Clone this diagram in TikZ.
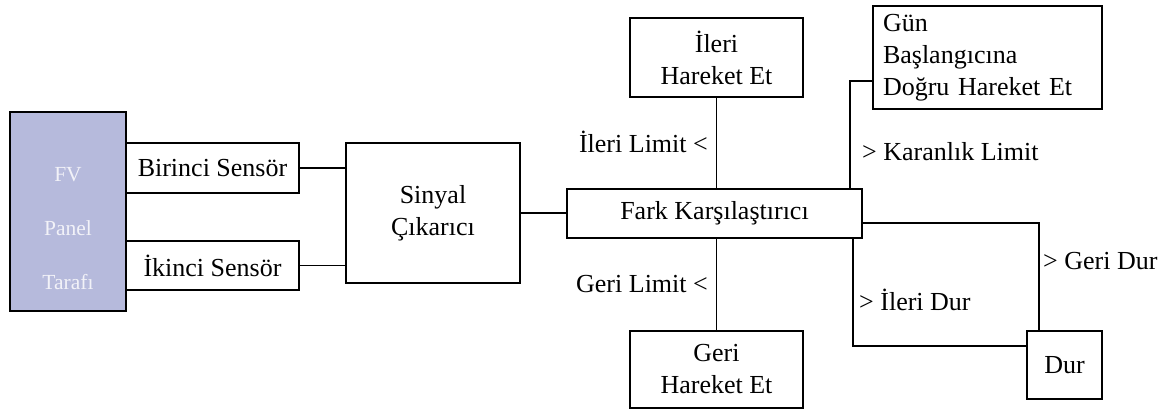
\documentclass[tikz,border=0pt]{standalone}
\usepackage{fontspec}
\setmainfont{Liberation Serif}
\definecolor{panelfill}{RGB}{182,186,220}
\definecolor{paneltext}{RGB}{242,242,248}
\tikzset{
  box/.style={draw=black, line width=1.2pt, fill=white, inner sep=0pt, align=center,
    font=\fontsize{26}{32}\selectfont},
  lbl/.style={inner sep=0pt, font=\fontsize{26}{32}\selectfont},
  conn/.style={draw=black, line width=1.2pt},
}
\begin{document}
\begin{tikzpicture}[x=1pt,y=-1pt]
\useasboundingbox (0,0) rectangle (1176,411);
% panel
\node[box, fill=panelfill, minimum width=116, minimum height=199] (fv) at (68,211.5) {};
\node[inner sep=0pt, align=center, text=paneltext, font=\fontsize{21.5}{54}\selectfont] (fvtext) at (68,229) {FV\\Panel\\Tarafı};
\node[box, minimum width=173, minimum height=50] (b1) at (212.5,168) {Birinci Sensör};
\node[box, minimum width=173, minimum height=49] (b2) at (212.5,265.5) {İkinci Sensör};
\node[box, minimum width=174, minimum height=140] (sin) at (433,213) {Sinyal\\Çıkarıcı};
\node[box, minimum width=295, minimum height=49] (fark) at (714.5,213.5) {Fark Karşılaştırıcı};
\node[box, minimum width=173, minimum height=79] (ih) at (716.5,57.5) {İleri\\Hareket Et};
\node[box, minimum width=173, minimum height=77] (gh) at (716.5,369.5) {Geri\\Hareket Et};
\node[box, minimum width=229, minimum height=103, text width=209, align=left] (gun) at (987.5,57.5) {Gün\\Başlangıcına\\Doğru Hareket Et};
\node[box, minimum width=75, minimum height=68] (dur) at (1064.5,365) {Dur};
% connectors
\draw[conn] (b1.east) -- (b1.east -| sin.west);
\draw[conn] (b2.east) -- (b2.east -| sin.west);
\draw[conn] (sin.east) -- (sin.east -| fark.west);
\draw[conn] (ih.south) -- (ih.south |- fark.north);
\draw[conn] (gh.north) -- (gh.north |- fark.south);
\coordinate (g1) at (850,81);
\draw[conn] (gun.west |- g1) -- (g1) -- (g1 |- fark.north);
\coordinate (r1) at (1039,223);
\draw[conn] (fark.east |- r1) -- (r1) -- (r1 |- dur.north);
\coordinate (r2) at (853,346);
\draw[conn] (r2 |- fark.south) -- (r2) -- (r2 -| dur.west);
% labels
\node[lbl, anchor=base east] (l1) at (708,153) {İleri Limit <};
\node[lbl, anchor=base east] (l2) at (708,293) {Geri Limit <};
\node[lbl, anchor=base west] (l3) at (862,161) {> Karanlık Limit};
\node[lbl, anchor=base west] (l4) at (1043,270) {> Geri Dur};
\node[lbl, anchor=base west] (l5) at (859,311) {> İleri Dur};
\end{tikzpicture}
\end{document}
